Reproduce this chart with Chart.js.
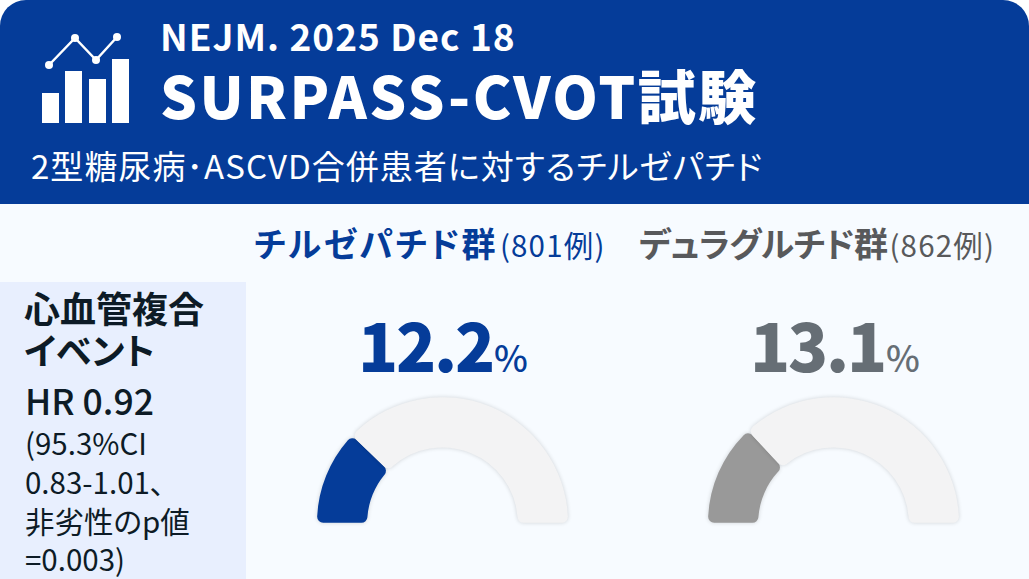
<!DOCTYPE html>
<html lang="ja">
<head>
<meta charset="utf-8">
<script src="https://cdn.jsdelivr.net/npm/chart.js@4"></script>
<style>
    html, body { margin: 0; padding: 0; background: #fff; }
    #page {
        position: relative;
        width: 1029px;
        height: 579px;
        overflow: hidden;
        background: #f7fbff;
        border-radius: 26px 26px 0 0;
        font-family: "Noto Sans CJK JP", "Noto Sans", sans-serif;
        font-feature-settings: "palt";
    }
    #page div { position: absolute; white-space: nowrap; line-height: 1; }
    #header { left: 0; top: 0; width: 1029px; height: 204px; background: #053c99; }
    #icon { position: absolute; left: 40px; top: 33px; }
    #journal { left: 160px; top: 17px; font-size: 37px; font-weight: 700; letter-spacing: 1px; color: #fff; }
    #title { left: 160px; top: 65px; font-size: 58px; font-weight: 900; letter-spacing: 2.4px; color: #fff; }
    #subtitle { left: 31px; top: 149px; font-size: 33px; font-weight: 400; letter-spacing: 1.05px; color: #fff; }
    #panel { left: 0; top: 282px; width: 246px; height: 297px; background: #e8effe; }
    .t1 { left: 24px; font-size: 36px; font-weight: 700; color: #0d1b26; }
    .t2 { left: 25px; font-size: 35.5px; font-weight: 500; color: #0d1b26; }
    .t3 { left: 25px; font-size: 29.5px; font-weight: 400; color: #0d1b26; }
    .group { font-size: 34px; font-weight: 700; }
    .group span { font-size: 29.5px; font-weight: 400; letter-spacing: 1.2px; margin-left: 2px; }
    .rate { font-size: 66px; font-weight: 900; letter-spacing: -2.2px; }
    .rate span { font-size: 36px; font-weight: 500; letter-spacing: 0; margin-left: 1px; }
    canvas { position: absolute; }
</style>
</head>
<body>
<div id="page">
    <div id="header"></div>
    <svg id="icon" width="92" height="92" viewBox="0 0 92 92">
        <g fill="#fff">
            <rect x="2" y="60" width="17" height="30"/>
            <rect x="25" y="38" width="17" height="52"/>
            <rect x="49" y="46" width="17" height="44"/>
            <rect x="72" y="26" width="17" height="64"/>
            <circle cx="9" cy="32" r="4"/>
            <circle cx="35" cy="5" r="4"/>
            <circle cx="56" cy="27" r="4"/>
            <circle cx="77" cy="4" r="4"/>
        </g>
        <polyline points="9,32 35,5 56,27 77,4" fill="none" stroke="#fff" stroke-width="2.5"/>
    </svg>
    <div id="journal">NEJM. 2025 Dec 18</div>
    <div id="title">SURPASS-CVOT試験</div>
    <div id="subtitle">2型糖尿病･ASCVD合併患者に対するチルゼパチド</div>
    <div id="panel"></div>
    <div class="t1" style="top:289px">心血管複合</div>
    <div class="t1" style="top:331px">イベント</div>
    <div class="t2" style="top:382px">HR 0.92</div>
    <div class="t3" style="top:428px">(95.3%CI</div>
    <div class="t3" style="top:467px">0.83-1.01、</div>
    <div class="t3" style="top:506px">非劣性のp値</div>
    <div class="t3" style="top:544px">=0.003)</div>
</div>
<script>
const groups = ["チルゼパチド群", "デュラグルチド群"];
const patients = ["801例", "862例"];
const rates = [12.2, 13.1];
const gaugeMax = 50;

const groupColors = ["#053c99", "#58595b"];
const rateColors = ["#053c99", "#666e75"];
const arcColors = ["#053c99", "#999999"];
const groupLeft = [254, 639];
const groupSpacing = [2.3, -0.6];
const rateLeft = [358, 750];
const gaugeLeft = [307, 698];

const page = document.getElementById("page");

// soft edge around the gauge track
const softEdge = {
    id: "softEdge",
    beforeDatasetDraw(chart) {
        chart.ctx.save();
        chart.ctx.shadowColor = "rgba(0, 0, 0, 0.16)";
        chart.ctx.shadowBlur = 4;
    },
    afterDatasetDraw(chart) {
        chart.ctx.restore();
    },
};

groups.forEach((name, i) => {
    const label = document.createElement("div");
    label.className = "group";
    label.style.cssText = `left:${groupLeft[i]}px;top:226px;color:${groupColors[i]};letter-spacing:${groupSpacing[i]}px`;
    label.innerHTML = `${name}<span style="color:${groupColors[i]}">(${patients[i]})</span>`;
    page.appendChild(label);

    const rate = document.createElement("div");
    rate.className = "rate";
    rate.style.cssText = `left:${rateLeft[i]}px;top:310px;color:${rateColors[i]}`;
    rate.innerHTML = `${rates[i]}<span>%</span>`;
    page.appendChild(rate);

    const canvas = document.createElement("canvas");
    canvas.width = 271;
    canvas.height = 146;
    canvas.style.cssText = `left:${gaugeLeft[i]}px;top:387px;width:271px;height:146px`;
    page.appendChild(canvas);

    new Chart(canvas.getContext("2d"), {
        type: "doughnut",
        data: {
            labels: [name, ""],
            datasets: [
                {
                    data: [rates[i], gaugeMax - rates[i]],
                    backgroundColor: [arcColors[i], "#f3f3f4"],
                    borderWidth: 0,
                    borderRadius: 6,
                },
            ],
        },
        options: {
            responsive: false,
            animation: false,
            rotation: -90,
            circumference: 180,
            cutout: "60%",
            layout: { padding: { left: 10, right: 10, top: 10, bottom: 10 } },
            plugins: { legend: { display: false }, tooltip: { enabled: false } },
        },
        plugins: [softEdge],
    });
});
</script>
</body>
</html>
